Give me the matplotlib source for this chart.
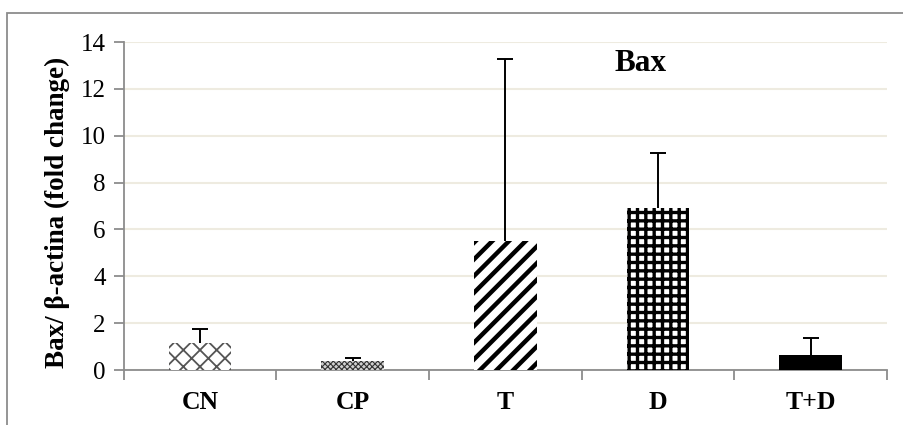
import numpy as np
import matplotlib
matplotlib.use('Agg')
import matplotlib.pyplot as plt
from matplotlib.patches import Rectangle

# values
groups = ['CN', 'CP', 'T', 'D', 'T+D']
means = [1.15, 0.38, 5.52, 6.9, 0.64]
err_up = [0.6, 0.12, 7.75, 2.37, 0.74]
y_ticks = [0, 2, 4, 6, 8, 10, 12, 14]

hatches = ['xx', 'xxxxxx', '//', '++', None]
hatch_colors = ['#555555', '#333333', 'black', 'black', 'black']
face_colors = ['white', '#d0d0d0', 'white', 'white', 'black']
hatch_widths = [1.3, 0.8, 3.2, 2.4, 1.0]

plt.rcParams['font.family'] = ['Liberation Serif', 'DejaVu Serif']

fig = plt.figure(figsize=(9.04, 4.25), dpi=100)
ax = fig.add_axes([0.137, 0.1294, 0.844, 0.7716])

# outer frame, cut by the image edge on the right and bottom
fig.patches.append(Rectangle((7 / 904, -0.2), 1.2, 1.2 - 13 / 425,
                             transform=fig.transFigure, fill=False,
                             edgecolor='#8c8c8c', linewidth=1.3))

x = np.arange(len(groups))
bars = ax.bar(x, means, width=0.41, color=face_colors, edgecolor=hatch_colors,
              linewidth=0, zorder=3)
for b, h, w in zip(bars, hatches, hatch_widths):
    if h:
        b.set_hatch(h)
        try:
            b.set_hatch_linewidth(w)
        except AttributeError:
            pass

# upper error bars only, no cap at the bar top
eb = ax.errorbar(x, means, yerr=[np.zeros(len(means)), err_up], fmt='none',
                 ecolor='black', elinewidth=1.4, capsize=6, capthick=1.4, zorder=4)
if len(eb[1]) == 2:
    eb[1][0].set_visible(False)

ax.set_ylim(0, 14)
ax.set_xlim(-0.5, len(groups) - 0.5)
ax.set_yticks(y_ticks)
ax.set_yticklabels([str(v) for v in y_ticks], fontsize=18)
ax.set_xticks(x)
ax.set_xticklabels(groups, fontsize=18.5, fontweight='bold')
ax.set_xticks(np.arange(len(groups) + 1) - 0.5, minor=True)
ax.tick_params(axis='x', which='major', length=0, pad=15)
ax.tick_params(axis='x', which='minor', length=7, color='#8c8c8c', width=1.3)
ax.tick_params(axis='y', length=7, color='#8c8c8c', width=1.3, pad=6)

ax.yaxis.grid(True, color='#eeebe0', linewidth=1.5, zorder=0)
ax.set_axisbelow(True)
for side in ['top', 'right']:
    ax.spines[side].set_visible(False)
for side in ['left', 'bottom']:
    ax.spines[side].set_color('#8c8c8c')
    ax.spines[side].set_linewidth(1.3)

ax.set_ylabel('Bax/ β-actina (fold change)', fontsize=19.5, fontweight='bold')
ax.yaxis.set_label_coords(-0.071, 0.48)
ax.text(2.888, 13.1, 'Bax', fontsize=22.5, fontweight='bold', ha='center', va='center')

fig.savefig('out.png', dpi=100)
